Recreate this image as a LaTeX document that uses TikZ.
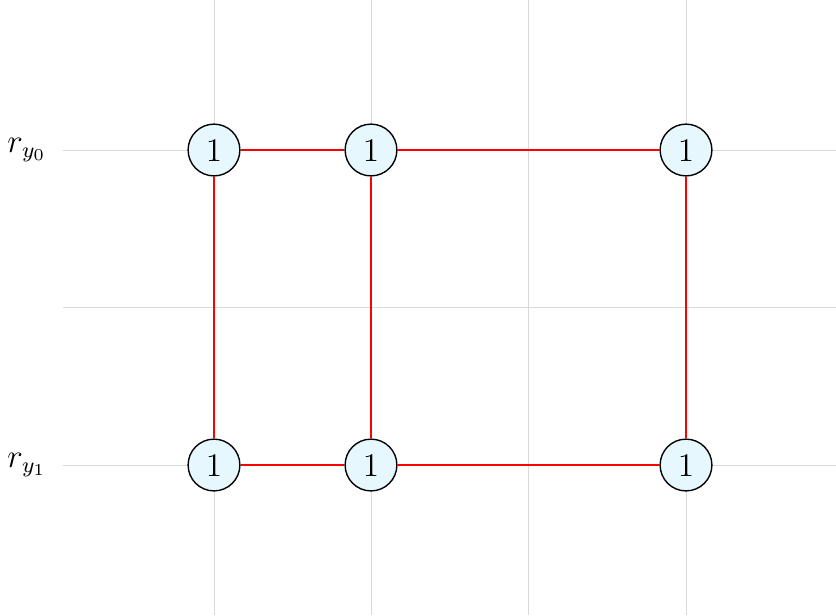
\documentclass[tikz,border=0pt]{standalone}
\begin{document}
\begin{tikzpicture}[x=0.012739cm,y=-0.012739cm,
  gridline/.style={draw=black!15,line width=0.3pt},
  cell/.style={circle,draw=black,fill=cyan!10,minimum size=0.66cm,inner sep=0pt,line width=0.5pt,font=\large},
  edge/.style={draw=red,line width=0.8pt},
  rowlabel/.style={inner sep=0pt,font=\large}]
\useasboundingbox (0,0) rectangle (836,615);
\foreach \x in {214,371,528,686} \draw[gridline] (\x,0) -- (\x,615);
\foreach \y in {150,307,465} \draw[gridline] (63,\y) -- (836,\y);
\node[rowlabel] (ry0) at (27,150) {$r_{y_0}$};
\node[rowlabel] (ry1) at (27,465) {$r_{y_1}$};
\node[cell] (a0) at (214,150) {1};
\node[cell] (b0) at (371,150) {1};
\node[cell] (d0) at (686,150) {1};
\node[cell] (a1) at (214,465) {1};
\node[cell] (b1) at (371,465) {1};
\node[cell] (d1) at (686,465) {1};
\draw[edge] (a0) -- (b0);
\draw[edge] (b0) -- (d0);
\draw[edge] (a1) -- (b1);
\draw[edge] (b1) -- (d1);
\draw[edge] (a0) -- (a1);
\draw[edge] (b0) -- (b1);
\draw[edge] (d0) -- (d1);
\end{tikzpicture}
\end{document}
